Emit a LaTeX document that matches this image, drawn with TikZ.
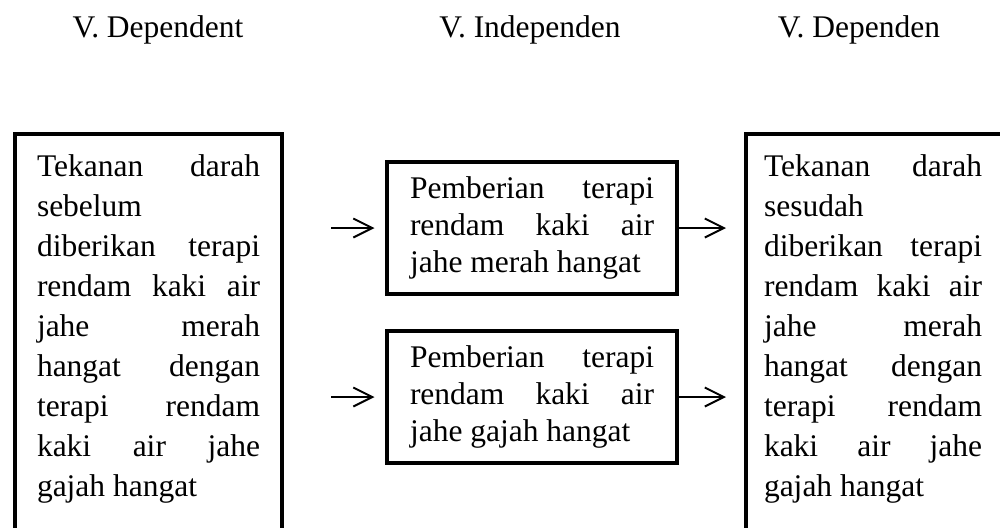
\documentclass[tikz,border=0pt]{standalone}
\usepackage{fontspec}
\setmainfont{Liberation Serif}
\usetikzlibrary{arrows.meta}

% one justified line of a box
\newcommand{\jl}[1]{\makebox[\hsize][s]{#1}}

\begin{document}
\begin{tikzpicture}[x=0.5pt,y=-0.5pt,
   head/.style={font=\fontsize{15.75}{20}\selectfont},
   sidebox/.style={draw, line width=2pt, anchor=north west, inner xsep=11pt,
                   inner ysep=10.25pt, font=\fontsize{15.75}{20}\selectfont},
   midbox/.style={draw, line width=2pt, inner xsep=11.5pt, inner ysep=0pt,
                  minimum height=66pt, font=\fontsize{15.75}{18.35}\selectfont},
   arr/.style={-{Straight Barb[length=9.5pt,width=9.5pt]}, line width=1pt}]
   \useasboundingbox (0,0) rectangle (1000,527);

   \node[head] (hd1) at (158,30) {V. Dependent};
   \node[head] (hd2) at (530,30) {V. Independen};
   \node[head] (hd3) at (859,30) {V. Dependen};

   \node[sidebox] (dep1) at (13,132) {\parbox[t][230pt][t]{111.5pt}{%
      \jl{Tekanan darah}\\ sebelum\\ \jl{diberikan terapi}\\
      \jl{rendam kaki air}\\ \jl{jahe merah}\\ \jl{hangat dengan}\\
      \jl{terapi rendam}\\ \jl{kaki air jahe}\\ gajah hangat}};

   \node[midbox] (ind1) at (532,228) {\parbox{122pt}{%
      \jl{Pemberian terapi}\\ \jl{rendam kaki air}\\ jahe merah hangat}};
   \node[midbox] (ind2) at (532,397) {\parbox{122pt}{%
      \jl{Pemberian terapi}\\ \jl{rendam kaki air}\\ jahe gajah hangat}};

   \node[sidebox, inner xsep=9pt] (dep2) at (744,132) {\parbox[t][230pt][t]{109pt}{%
      \jl{Tekanan darah}\\ sesudah\\ \jl{diberikan terapi}\\
      \jl{rendam kaki air}\\ \jl{jahe merah}\\ \jl{hangat dengan}\\
      \jl{terapi rendam}\\ \jl{kaki air jahe}\\ gajah hangat}\hspace*{20pt}};

   \foreach \b in {ind1,ind2} {
   \draw[arr, shorten <=23.5pt, shorten >=5.25pt] (dep1.east |- \b.west) -- (\b.west);
   \draw[arr, shorten >=9pt] (\b.east) -- (\b.east -| dep2.west);
   }

\end{tikzpicture}
\end{document}
